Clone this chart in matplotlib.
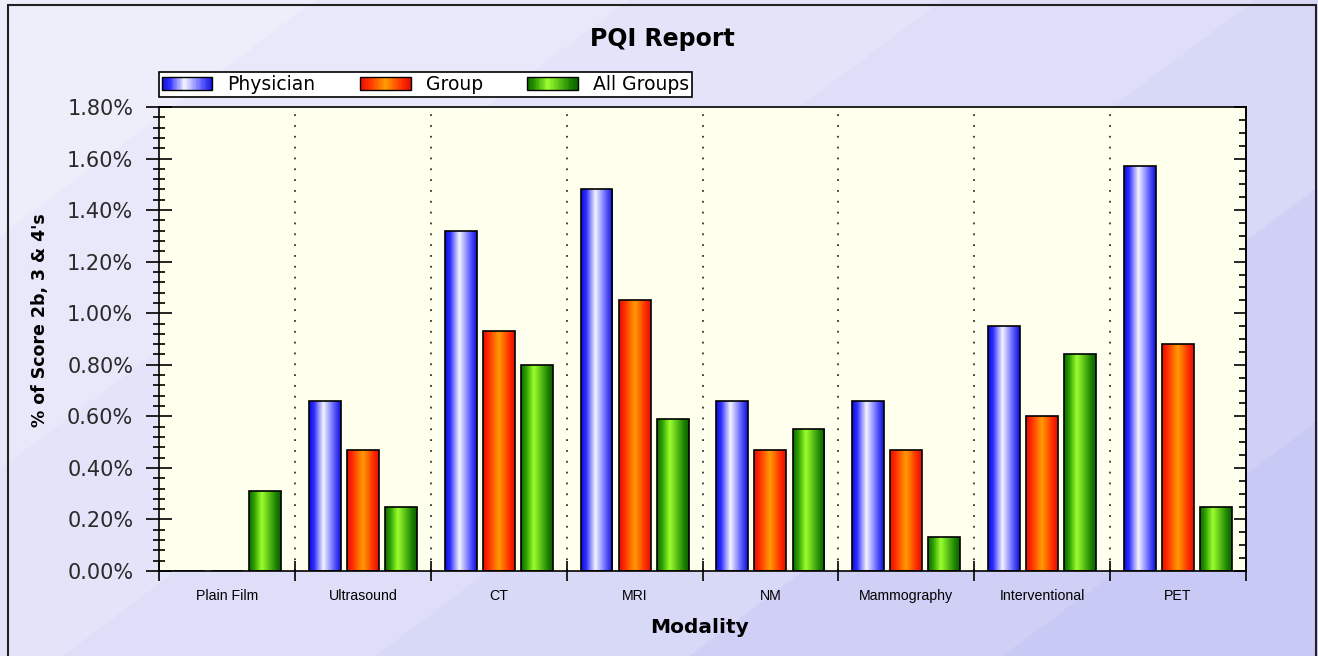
import matplotlib
matplotlib.use("Agg")
import matplotlib.pyplot as plt
import numpy as np
from matplotlib import font_manager
from matplotlib.colors import LinearSegmentedColormap
from matplotlib.legend_handler import HandlerBase
from matplotlib.patches import Rectangle
from matplotlib.ticker import MultipleLocator, FixedLocator, FuncFormatter

# data (% of score 2b, 3 & 4's)
categories = ["Plain Film", "Ultrasound", "CT", "MRI", "NM",
              "Mammography", "Interventional", "PET"]
physician = [0.00, 0.66, 1.32, 1.48, 0.66, 0.66, 0.95, 1.57]
group = [0.00, 0.47, 0.93, 1.05, 0.47, 0.47, 0.60, 0.88]
all_groups = [0.31, 0.25, 0.80, 0.59, 0.55, 0.13, 0.84, 0.25]
series_names = ["Physician", "Group", "All Groups"]

names = {f.name for f in font_manager.fontManager.ttflist}
cat_font = next((n for n in ["Liberation Sans Narrow", "Liberation Sans"]
                 if n in names), "DejaVu Sans")
cat_size = 12.5 if cat_font == "Liberation Sans Narrow" else 10.2

cmaps = [
    LinearSegmentedColormap.from_list("b", [(0, "#1010d8"), (0.15, "#2c2cff"), (0.45, "#f4f4ff"),
                                            (0.8, "#5a5aff"), (1, "#1010d8")]),
    LinearSegmentedColormap.from_list("r", [(0, "#e01000"), (0.15, "#ff2800"), (0.5, "#ff9c00"),
                                            (0.85, "#ff2800"), (1, "#e01000")]),
    LinearSegmentedColormap.from_list("g", [(0, "#0c6a00"), (0.15, "#2c9c00"), (0.4, "#9cff30"),
                                            (0.85, "#1c8400"), (1, "#0a6000")]),
]


class GradHandler(HandlerBase):
    def __init__(self, cmap):
        super().__init__()
        self.cmap = cmap

    def create_artists(self, legend, orig_handle, xdescent, ydescent,
                       width, height, fontsize, trans):
        n = 40
        x0, y0 = -xdescent, -ydescent
        arts = []
        for i in range(n):
            arts.append(Rectangle((x0 + i * width / n, y0), width / n + 0.3, height,
                                  facecolor=self.cmap((i + 0.5) / n), edgecolor="none",
                                  transform=trans))
        arts.append(Rectangle((x0, y0), width, height, fill=False, edgecolor="black",
                              lw=1.0, transform=trans))
        return arts


fig = plt.figure(figsize=(13.18, 6.56), dpi=100)

# figure background: diagonal lavender bands
bg = fig.add_axes([0, 0, 1, 1], zorder=-10)
yy, xx = np.mgrid[0:1:300j, 0:1:600j]
t = 0.6 * xx + 0.4 * yy
t = np.floor(t * 7) / 7
bgmap = LinearSegmentedColormap.from_list("bg", ["#eeeefb", "#dcdcf8", "#c2c2f6"])
bg.imshow(t, cmap=bgmap, extent=[0, 1, 0, 1], aspect="auto", vmin=0, vmax=1)
bg.set_xlim(0, 1)
bg.set_ylim(0, 1)
bg.axis("off")
fig.patches.append(Rectangle((8 / 1318, -0.02), 1308 / 1318, 1.02 - 5 / 656,
                             transform=fig.transFigure, fill=False, edgecolor="#222222",
                             lw=1.5, zorder=5))

ax = fig.add_axes([159 / 1318, 85 / 656, 1087 / 1318, 464 / 656])
ax.set_facecolor("#ffffee")

x = np.arange(len(categories))
w = 0.235
off = 0.28
for k, vals in enumerate([physician, group, all_groups]):
    bars = ax.bar(x + (k - 1) * off, vals, w, facecolor="none", edgecolor="black",
                  lw=1.2, zorder=3, label=series_names[k])
    for b in bars:
        if b.get_height() <= 0:
            continue
        grad = np.linspace(0, 1, 64).reshape(1, -1)
        im = ax.imshow(grad, cmap=cmaps[k], aspect="auto", zorder=2.5,
                       extent=[b.get_x(), b.get_x() + b.get_width(), 0, b.get_height()])
        im.set_clip_path(b)

ax.set_xlim(-0.5, len(categories) - 0.5)
ax.set_ylim(0, 1.8)

# dotted separators between categories
for b in np.arange(0.5, len(categories) - 0.5, 1):
    ax.axvline(b, color="#333333", lw=1.3, ls=(0, (1, 5)), zorder=1)

ax.xaxis.set_major_locator(FixedLocator(np.arange(-0.5, len(categories), 1)))
ax.xaxis.set_major_formatter(FuncFormatter(lambda v, p: ""))
ax.xaxis.set_minor_locator(FixedLocator(x))
ax.set_xticks(x, categories, minor=True)
ax.tick_params(axis="x", which="major", direction="inout", length=14, width=1.2)
ax.tick_params(axis="x", which="minor", length=0, pad=13, labelsize=cat_size)
for lab in ax.get_xticklabels(minor=True):
    lab.set_fontfamily(cat_font)

ax.yaxis.set_major_locator(MultipleLocator(0.2))
ax.yaxis.set_minor_locator(MultipleLocator(0.04))
ax.yaxis.set_major_formatter(FuncFormatter(lambda v, p: f"{v:.2f}%"))
ax.tick_params(axis="y", which="major", direction="inout", length=19, width=1.2,
               labelsize=15, pad=9, labelcolor="#2a2a2a")
ax.tick_params(axis="y", which="minor", direction="inout", length=9, width=1.2)

sec = ax.secondary_yaxis("right")
sec.yaxis.set_major_locator(MultipleLocator(0.2))
sec.yaxis.set_minor_locator(MultipleLocator(0.05))
sec.tick_params(which="major", direction="in", length=9, width=1.2, labelright=False)
sec.tick_params(which="minor", direction="in", length=5, width=1.2)
sec.spines["right"].set_linewidth(1.2)

for s in ax.spines.values():
    s.set_linewidth(1.2)

fig.text(662 / 1318, 0.941, "PQI Report", ha="center", va="center", fontsize=17,
         fontweight="bold")
fig.text(0.030, 0.512, "% of Score 2b, 3 & 4's", rotation=90, ha="center", va="center",
         fontsize=12.5, fontweight="bold")
fig.text(700 / 1318, 0.044, "Modality", ha="center", va="center", fontsize=14.5,
         fontweight="bold")

handles = [Rectangle((0, 0), 1, 1) for _ in series_names]
leg = fig.legend(handles, series_names, loc="lower left", ncol=3, mode="expand",
                 bbox_to_anchor=(159 / 1318, 559 / 656, 533 / 1318, 25 / 656),
                 handler_map={h: GradHandler(c) for h, c in zip(handles, cmaps)},
                 fontsize=13.5, handlelength=2.7, handleheight=0.65, handletextpad=0.8,
                 borderpad=0.15, borderaxespad=0, fancybox=False, framealpha=1,
                 edgecolor="black", facecolor="white")
leg.get_frame().set_linewidth(1.2)

plt.savefig("out.png", dpi=100)
